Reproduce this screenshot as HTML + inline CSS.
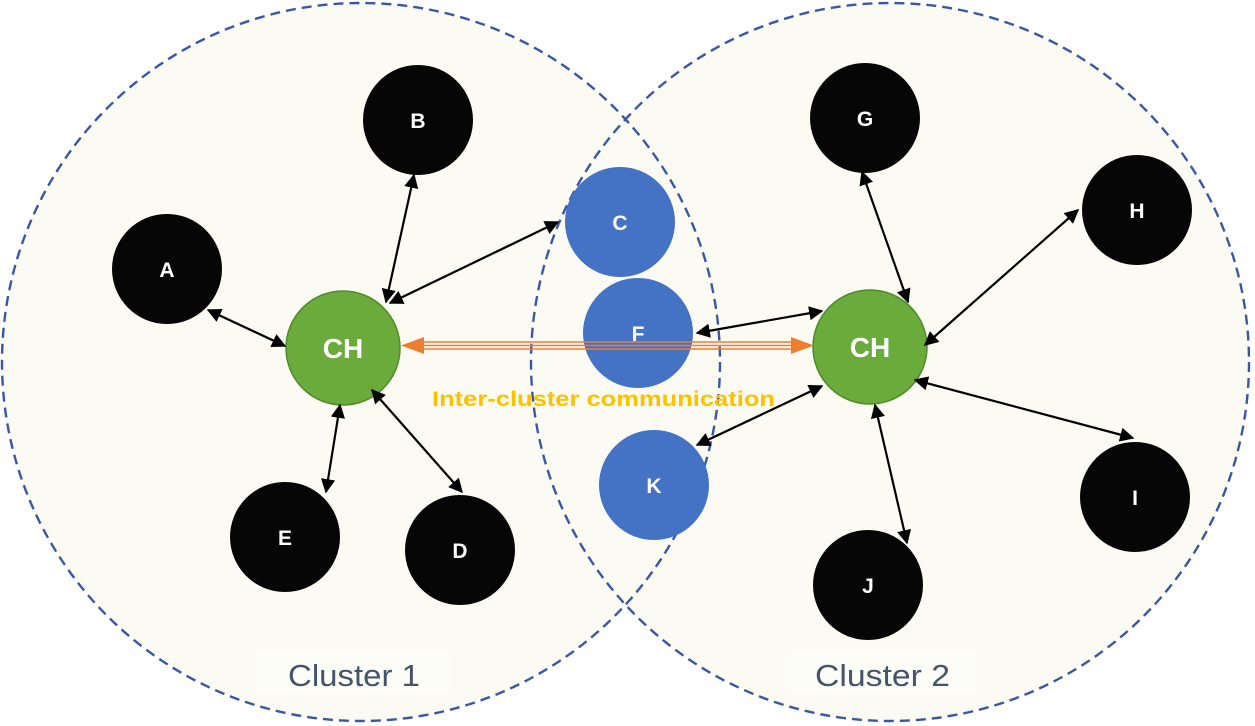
<!DOCTYPE html>
<html><head><meta charset="utf-8"><style>html,body{margin:0;padding:0;background:#fff}svg{display:block}</style></head>
<body>
<svg width="1255" height="726" viewBox="0 0 1255 726" xmlns="http://www.w3.org/2000/svg" font-family="Liberation Sans, sans-serif">
<defs>
<marker id="ah" viewBox="0 0 10 10" refX="9" refY="5" markerWidth="6.5" markerHeight="6.5" orient="auto-start-reverse"><path d="M0,0 L10,5 L0,10 z" fill="#000"/></marker>
</defs>
<circle cx="361" cy="362" r="359" fill="#fcfbf3"/>
<circle cx="890" cy="362" r="359" fill="#fcfbf3"/>
<circle cx="361" cy="362" r="359" fill="none" stroke="#3a58a2" stroke-width="2.4" stroke-dasharray="10 6"/>
<circle cx="890" cy="362" r="359" fill="none" stroke="#3a58a2" stroke-width="2.4" stroke-dasharray="10 6"/>
<rect x="256" y="652" width="195" height="40" fill="#fdfdf8"/>
<rect x="786" y="652" width="190" height="40" fill="#fdfdf8"/>
<text x="288" y="686" font-size="31" fill="#44546a" textLength="132" lengthAdjust="spacingAndGlyphs">Cluster 1</text>
<text x="815" y="686" font-size="31" fill="#44546a" textLength="135" lengthAdjust="spacingAndGlyphs">Cluster 2</text>
<g fill="#060606">
<circle cx="418" cy="120" r="55"/><circle cx="167" cy="269" r="55"/>
<circle cx="285" cy="537" r="55"/><circle cx="460" cy="550" r="55"/>
<circle cx="865" cy="118" r="55"/><circle cx="1137" cy="210" r="55"/>
<circle cx="1135" cy="497" r="55"/><circle cx="868" cy="585" r="55"/>
</g>
<g fill="#4472c4">
<circle cx="620" cy="222" r="55"/><circle cx="638" cy="333" r="55"/><circle cx="654" cy="485" r="55"/>
</g>
<g fill="#6aab3c" stroke="#4f8a2a" stroke-width="1.5">
<circle cx="343" cy="348" r="57"/><circle cx="870" cy="347" r="57"/>
</g>
<g stroke="#000" stroke-width="2.2" marker-start="url(#ah)" marker-end="url(#ah)">
<line x1="208" y1="310" x2="285" y2="346"/>
<line x1="414" y1="175" x2="386" y2="302"/>
<line x1="558" y1="222" x2="390" y2="303"/>
<line x1="340" y1="405" x2="326" y2="492"/>
<line x1="372" y1="390" x2="462" y2="492"/>
<line x1="697" y1="333" x2="822" y2="311"/>
<line x1="697" y1="445" x2="822" y2="386"/>
<line x1="862" y1="172" x2="908" y2="302"/>
<line x1="1078" y1="210" x2="925" y2="345"/>
<line x1="915" y1="380" x2="1133" y2="438"/>
<line x1="875" y1="405" x2="907" y2="543"/>
</g>
<g stroke="#ed7d31" stroke-width="1.6">
<line x1="418" y1="342" x2="800" y2="342"/>
<line x1="418" y1="345.5" x2="800" y2="345.5"/>
<line x1="418" y1="349" x2="800" y2="349"/>
</g>
<path d="M401,345.5 L424,337 L424,354 z" fill="#ed7d31"/>
<path d="M814,345.5 L791,337 L791,354 z" fill="#ed7d31"/>
<g fill="#fff" font-weight="bold" text-anchor="middle">
<text x="418" y="128" font-size="21">B</text>
<text x="167" y="277" font-size="21">A</text>
<text x="285" y="545" font-size="21">E</text>
<text x="460" y="558" font-size="21">D</text>
<text x="865" y="126" font-size="21">G</text>
<text x="1137" y="218" font-size="21">H</text>
<text x="1135" y="505" font-size="21">I</text>
<text x="868" y="593" font-size="21">J</text>
<text x="620" y="230" font-size="21">C</text>
<text x="638" y="341" font-size="21">F</text>
<text x="654" y="493" font-size="21">K</text>
<text x="343" y="358" font-size="28">CH</text>
<text x="870" y="357" font-size="28">CH</text>
</g>
<text x="432" y="406" font-size="21" font-weight="bold" fill="#ffc000" textLength="343" lengthAdjust="spacingAndGlyphs">Inter-cluster communication</text>
</svg>
</body></html>
